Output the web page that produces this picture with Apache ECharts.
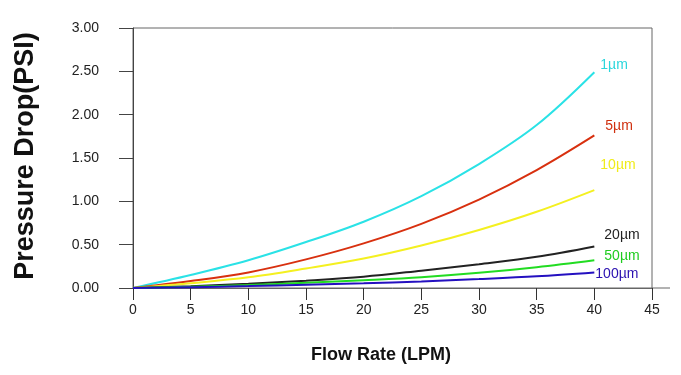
<!DOCTYPE html>
<html>
<head>
<meta charset="utf-8">
<script src="https://cdn.jsdelivr.net/npm/echarts@6/dist/echarts.min.js"></script>
<style>
  html, body { margin: 0; padding: 0; background: #fff; }
  #main { width: 681px; height: 375px; }
</style>
</head>
<body>
<div id="main"></div>
<script>
// flow rate (LPM)
var flow = [0, 5, 10, 15, 20, 25, 30, 35, 40];
// pressure drop (PSI) per filter rating
var p1um   = [0, 0.15, 0.32, 0.53, 0.765, 1.06, 1.43, 1.88, 2.49];
var p5um   = [0, 0.08, 0.18, 0.33, 0.515, 0.74, 1.02, 1.36, 1.76];
var p10um  = [0, 0.055, 0.123, 0.225, 0.34, 0.49, 0.67, 0.88, 1.13];
var p20um  = [0, 0.02, 0.05, 0.085, 0.13, 0.2, 0.275, 0.36, 0.48];
var p50um  = [0, 0.015, 0.035, 0.06, 0.09, 0.125, 0.175, 0.24, 0.32];
var p100um = [0, 0.01, 0.022, 0.037, 0.054, 0.076, 0.103, 0.135, 0.18];
var names = ['1µm', '5µm', '10µm', '20µm', '50µm', '100µm'];

function pairs(ys) {
  return flow.map(function (x, i) { return [x, ys[i]]; });
}

// one line per filter, label next to its end
function line(name, ys, color, labelColor, off) {
  return {
    name: name,
    type: 'line',
    smooth: 0.35,
    symbol: 'none',
    data: pairs(ys),
    lineStyle: { color: color, width: 2 },
    endLabel: {
      show: true,
      formatter: name,
      color: labelColor,
      fontSize: 14,
      fontFamily: 'Liberation Sans, Arial',
      distance: 0,
      offset: off
    }
  };
}

var chart = echarts.init(document.getElementById('main'));
chart.setOption({
  animation: false,
  grid: {
    left: 133, top: 28, width: 519, height: 260,
    show: true, borderColor: '#666', borderWidth: 1
  },
  xAxis: {
    type: 'value',
    min: 0, max: 45, interval: 5,
    splitLine: { show: false },
    axisLine: { lineStyle: { color: '#666' } },
    axisTick: { inside: false, length: 12, lineStyle: { color: '#333' } },
    axisLabel: { color: '#222', fontSize: 14, fontFamily: 'Liberation Sans, Arial', margin: 15 }
  },
  yAxis: {
    type: 'value',
    min: 0, max: 3, interval: 0.5,
    offset: 16,
    splitLine: { show: false },
    axisLine: { show: true, lineStyle: { color: '#444' } },
    axisTick: { show: true, length: 14, lineStyle: { color: '#444' } },
    axisLabel: {
      color: '#222', fontSize: 14, fontFamily: 'Liberation Sans, Arial', margin: 18,
      formatter: function (v) { return v.toFixed(2); }
    }
  },
  graphic: [
    { type: 'line', shape: { x1: 652, y1: 288, x2: 670, y2: 288 }, style: { stroke: '#666', lineWidth: 1 } },
    {
      type: 'text', x: 26, y: 156, rotation: Math.PI / 2,
      style: {
        text: 'Pressure Drop(PSI)', fill: '#111',
        font: 'bold 27px "Liberation Sans", Arial',
        textAlign: 'center', textVerticalAlign: 'middle'
      }
    },
    {
      type: 'text', x: 381, y: 355,
      style: {
        text: 'Flow Rate (LPM)', fill: '#111',
        font: 'bold 18px "Liberation Sans", Arial',
        textAlign: 'center', textVerticalAlign: 'middle'
      }
    }
  ],
  series: [
    line(names[0], p1um, '#2ae2e6', '#2ad6dc', [6, -7]),
    line(names[1], p5um, '#d8300f', '#d0300f', [11, -9]),
    line(names[2], p10um, '#f4f020', '#f0ec1a', [6, -25]),
    line(names[3], p20um, '#222222', '#222222', [10, -11]),
    line(names[4], p50um, '#22dc22', '#20cc20', [10, -4]),
    line(names[5], p100um, '#2410c0', '#2a10b0', [1, 2])
  ]
});
</script>
</body>
</html>
